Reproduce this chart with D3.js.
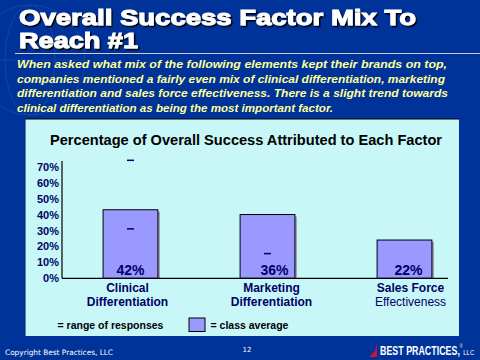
<!DOCTYPE html>
<html><head><meta charset="utf-8">
<script src="https://cdn.jsdelivr.net/npm/d3@7"></script>
<style>body{margin:0;padding:0;background:#003399;}svg{display:block;}</style>
</head><body>
<script>
const categories = ["Clinical|Differentiation", "Marketing|Differentiation", "Sales Force|Effectiveness"];
const barValues = [43, 40, 24];
const barLabels = ["42%", "36%", "22%"];
const rangeHigh = [74, null, null];
const rangeLow = [31, 15.5, null];
const yTicks = [0, 10, 20, 30, 40, 50, 60, 70];
const titleLines = ["Overall Success Factor Mix To", "Reach #1"];
const subtitleLines = [
  "When asked what mix of the following elements kept their brands on top,",
  "companies mentioned a fairly even mix of clinical differentiation, marketing",
  "differentiation and sales force effectiveness. There is a slight trend towards",
  "clinical differentiation as being the most important factor."
];

const W = 480, H = 360;
const svg = d3.select("body").append("svg").attr("width", W).attr("height", H);
const defs = svg.append("defs");
const f = defs.append("filter").attr("id", "sh").attr("x", "-5%").attr("y", "-20%").attr("width", "110%").attr("height", "150%");
f.append("feDropShadow").attr("dx", 1.5).attr("dy", 1.5).attr("stdDeviation", 0).attr("flood-color", "#000").attr("flood-opacity", 1);

svg.append("rect").attr("width", W).attr("height", H).attr("fill", "#003399");

// faint globe watermark
const g0 = svg.append("g").attr("fill", "none").attr("stroke", "#2a55b0").attr("stroke-width", 0.8).attr("opacity", 0.6);
g0.append("circle").attr("cx", 30).attr("cy", 60).attr("r", 55);
g0.append("ellipse").attr("cx", 30).attr("cy", 60).attr("rx", 25).attr("ry", 55);
g0.append("line").attr("x1", -25).attr("x2", 85).attr("y1", 60).attr("y2", 60);

// title
const tg = svg.append("g").attr("font-family", "Liberation Sans, Arial, sans-serif").attr("font-weight", "bold")
  .attr("font-size", 22).attr("fill", "#fff").attr("stroke", "#fff").attr("stroke-width", 1).attr("filter", "url(#sh)");
const titleLens = [397, 119];
titleLines.forEach((t, i) => {
  tg.append("text").attr("x", 19).attr("y", 25 + i * 23)
    .attr("textLength", titleLens[i]).attr("lengthAdjust", "spacingAndGlyphs").text(t);
});
svg.append("line").attr("x1", 15).attr("x2", 480).attr("y1", 53.5).attr("y2", 53.5).attr("stroke", "#ccd").attr("stroke-width", 1);

// subtitle
const sg = svg.append("g").attr("font-family", "Liberation Sans, Arial, sans-serif").attr("font-weight", "bold").attr("font-style", "italic").attr("font-size", 11).attr("fill", "#ffff99");
const subLens = [430, 428, 431, 316];
subtitleLines.forEach((t, i) => {
  sg.append("text").attr("x", 17).attr("y", 68 + i * 14.7).attr("textLength", subLens[i]).attr("lengthAdjust", "spacingAndGlyphs").text(t);
});

// panel
svg.append("rect").attr("x", 25).attr("y", 119).attr("width", 434).attr("height", 217).attr("fill", "#c8f7f7");
svg.append("line").attr("x1", 25).attr("x2", 459).attr("y1", 119).attr("y2", 119).attr("stroke", "#000");
svg.append("line").attr("x1", 25).attr("x2", 25).attr("y1", 119).attr("y2", 336).attr("stroke", "#002277");

svg.append("text").attr("x", 50).attr("y", 145).attr("font-family", "Liberation Sans, Arial, sans-serif")
  .attr("font-size", 14).attr("font-weight", "bold").attr("fill", "#000")
  .attr("textLength", 392).attr("lengthAdjust", "spacingAndGlyphs")
  .text("Percentage of Overall Success Attributed to Each Factor");

const y = d3.scaleLinear().domain([0, 70]).range([278.3, 166.7]);
const x = d3.scaleBand().domain(categories).range([62, 473]).paddingInner(0.6).paddingOuter(0.3);

// y axis
const ya = svg.append("g").attr("transform", "translate(62,0)")
  .call(d3.axisLeft(y).tickValues(yTicks).tickFormat(d => d + "%").tickSize(0).tickPadding(3));
ya.select(".domain").remove();
ya.selectAll("text").attr("font-family", "Liberation Sans, Arial, sans-serif").attr("font-size", 11).attr("font-weight", "bold").attr("fill", "#000066");
svg.append("line").attr("x1", 62).attr("x2", 62).attr("y1", 161).attr("y2", y(0)).attr("stroke", "#000").attr("stroke-width", 1.2);

// bars
const bw = x.bandwidth();
categories.forEach((c, i) => {
  const x0 = x(c);
  svg.append("rect").attr("x", x0 + 2).attr("y", y(barValues[i]) + 2).attr("width", bw).attr("height", y(0) - y(barValues[i]) - 2).attr("fill", "#9a9ab0");
  svg.append("rect").attr("x", x0).attr("y", y(barValues[i])).attr("width", bw).attr("height", y(0) - y(barValues[i]))
    .attr("fill", "#9999ff").attr("stroke", "#000").attr("stroke-width", 1);
});
svg.append("line").attr("x1", 62).attr("x2", 448).attr("y1", y(0)).attr("y2", y(0)).attr("stroke", "#000").attr("stroke-width", 1.2);

// range marks
categories.forEach((c, i) => {
  const cx = x(c) + bw / 2;
  [rangeHigh[i], rangeLow[i]].forEach(v => {
    if (v == null) return;
    svg.append("line").attr("x1", cx - 3.5).attr("x2", cx + 3.5).attr("y1", y(v)).attr("y2", y(v)).attr("stroke", "#000066").attr("stroke-width", 1.5);
  });
});

// bar labels
const labelDx = [0, 7, 4];
categories.forEach((c, i) => {
  svg.append("text").attr("x", x(c) + bw / 2 + labelDx[i]).attr("y", 275).attr("text-anchor", "middle")
    .attr("font-family", "Liberation Sans, Arial, sans-serif").attr("font-size", 14).attr("font-weight", "bold").attr("fill", "#000066")
    .text(barLabels[i]);
});

// category labels
const catDx = [-3, 4, 6];
categories.forEach((c, i) => {
  const parts = c.split("|");
  parts.forEach((p, j) => {
    svg.append("text").attr("x", x(c) + bw / 2 + catDx[i]).attr("y", 292 + j * 14).attr("text-anchor", "middle")
      .attr("font-family", "Liberation Sans, Arial, sans-serif").attr("font-size", 12)
      .attr("font-weight", (i === 2 && j === 1) ? "normal" : "bold").attr("fill", "#000066").text(p);
  });
});

// legend
const lg = svg.append("g").attr("font-family", "Liberation Sans, Arial, sans-serif").attr("font-size", 10.5).attr("font-weight", "bold").attr("fill", "#000");
lg.append("text").attr("x", 57.5).attr("y", 329).text("= range of responses");
svg.append("rect").attr("x", 189).attr("y", 318).attr("width", 16).attr("height", 13.5).attr("fill", "#9999ff").attr("stroke", "#000").attr("stroke-width", 1);
lg.append("text").attr("x", 210.5).attr("y", 329).text("= class average");

// footer
svg.append("text").attr("x", 5).attr("y", 355).attr("font-family", "DejaVu Sans, sans-serif").attr("font-size", 7.5).attr("fill", "#fff")
  .attr("textLength", 108).attr("lengthAdjust", "spacingAndGlyphs").text("Copyright Best Practices, LLC");
svg.append("text").attr("x", 247).attr("y", 352).attr("text-anchor", "middle").attr("font-family", "DejaVu Sans, sans-serif").attr("font-size", 7).attr("fill", "#fff").text("12");
svg.append("path").attr("d", "M369,357 L375,351 L377,343 L377,357 Z").attr("fill", "#cc1133");
const logo = svg.append("text").attr("transform", "translate(380,355) scale(0.74,1)")
  .attr("font-family", "Liberation Sans, sans-serif")
  .attr("font-weight", "bold").attr("font-size", 12).attr("fill", "#fff");
logo.append("tspan").text("BEST PRACTICES,");
logo.append("tspan").attr("font-size", 5).attr("dy", -7).attr("font-weight", "normal").text("®");
logo.append("tspan").attr("font-size", 8).attr("dy", 7).attr("dx", 1).attr("font-weight", "normal").text("LLC");
</script>
</body></html>
